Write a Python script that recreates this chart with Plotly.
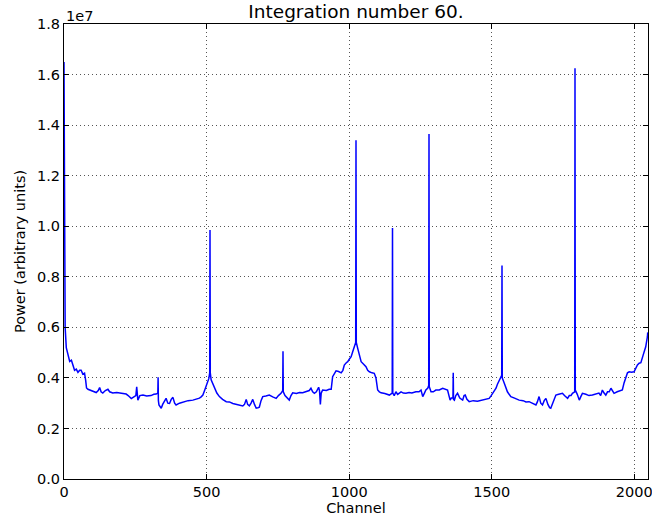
import numpy as np
import plotly.graph_objects as go

# Channel numbers and power (in units of 1e6)
channels = [
    0, 1, 2, 4, 8, 14, 20, 26, 31, 37, 43, 49, 55, 60, 66, 72, 76, 79, 84, 95,
    105, 113, 120, 125, 130, 136, 145, 154, 160, 171, 185, 200, 218, 225, 230, 236, 245, 252, 255, 257,
    259, 266, 277, 290, 305, 315, 323, 329, 330, 331, 333, 337, 341, 346, 352, 358, 364, 370, 376, 382,
    388, 393, 405, 420, 435, 452, 465, 475, 481, 487, 493, 498, 504, 508, 511, 512, 513, 516, 522, 528,
    536, 545, 556, 569, 580, 592, 605, 615, 627, 633, 639, 644, 650, 656, 662, 668, 674, 680, 685, 691,
    697, 708, 720, 732, 744, 752, 761, 767, 768, 769, 775, 779, 790, 796, 802, 815, 826, 837, 850, 860,
    866, 872, 878, 885, 893, 896, 899, 902, 907, 920, 930, 937, 942, 948, 954, 963, 972, 978, 983, 990,
    995, 1001, 1007, 1013, 1018, 1023, 1024, 1025, 1030, 1036, 1042, 1050, 1059, 1065, 1071, 1080, 1088, 1094, 1100, 1106,
    1112, 1125, 1141, 1151, 1152, 1153, 1158, 1164, 1170, 1176, 1182, 1190, 1199, 1210, 1220, 1234, 1245, 1252, 1258, 1264,
    1269, 1276, 1279, 1280, 1281, 1287, 1295, 1304, 1316, 1328, 1340, 1345, 1350, 1354, 1358, 1364, 1365, 1366, 1369, 1374,
    1380, 1388, 1398, 1403, 1407, 1413, 1421, 1435, 1450, 1465, 1480, 1491, 1498, 1503, 1509, 1515, 1520, 1526, 1535, 1536,
    1537, 1544, 1550, 1555, 1561, 1567, 1580, 1596, 1610, 1620, 1631, 1643, 1655, 1660, 1666, 1672, 1678, 1684, 1690, 1697,
    1703, 1707, 1713, 1719, 1725, 1735, 1748, 1755, 1760, 1766, 1772, 1778, 1783, 1791, 1792, 1793, 1800, 1807, 1812, 1818,
    1830, 1841, 1853, 1865, 1876, 1882, 1888, 1894, 1900, 1906, 1912, 1918, 1924, 1929, 1940, 1950, 1958, 1964, 1970, 1976,
    1982, 1990, 1999, 2005, 2011, 2017, 2023, 2031, 2037, 2040, 2046, 2047,
]
power_millions = [
    16.5, 9.0, 6.8, 6.0, 5.2, 4.95, 4.65, 4.7, 4.5, 4.3, 4.35, 4.22, 4.3, 4.3, 4.15, 4.19, 3.9, 3.6, 3.55, 3.5,
    3.45, 3.42, 3.5, 3.62, 3.45, 3.4, 3.5, 3.55, 3.45, 3.4, 3.42, 3.38, 3.36, 3.3, 3.26, 3.18, 3.25, 3.3, 3.65, 3.2,
    3.12, 3.3, 3.32, 3.28, 3.3, 3.35, 3.36, 3.4, 4.02, 3.1, 2.93, 2.85, 2.8, 2.95, 3.1, 3.19, 3.0, 2.99, 3.15, 3.23,
    3.0, 2.93, 3.0, 3.05, 3.1, 3.12, 3.15, 3.2, 3.25, 3.32, 3.5, 3.68, 3.85, 3.98, 4.2, 9.85, 4.2, 3.92, 3.75, 3.6,
    3.4, 3.26, 3.15, 3.06, 3.05, 2.99, 2.95, 2.92, 2.89, 2.95, 3.15, 2.95, 2.89, 3.0, 3.15, 2.95, 2.8, 2.82, 2.84, 3.1,
    3.26, 3.28, 3.32, 3.25, 3.19, 3.3, 3.39, 3.5, 5.05, 3.45, 3.3, 3.26, 3.12, 3.3, 3.41, 3.38, 3.42, 3.41, 3.45, 3.5,
    3.59, 3.45, 3.39, 3.45, 3.63, 3.5, 2.95, 3.4, 3.52, 3.5, 3.55, 3.55, 4.05, 4.2, 4.28, 4.25, 4.2, 4.3, 4.51, 4.6,
    4.64, 4.75, 4.84, 5.05, 5.23, 5.4, 13.4, 5.4, 5.17, 4.9, 4.64, 4.55, 4.44, 4.3, 4.24, 4.2, 4.18, 4.0, 3.52, 3.45,
    3.41, 3.38, 3.32, 3.4, 9.93, 3.4, 3.3, 3.45, 3.35, 3.4, 3.45, 3.4, 3.39, 3.42, 3.4, 3.45, 3.45, 3.52, 3.26, 3.4,
    3.52, 3.6, 3.7, 13.65, 3.65, 3.45, 3.45, 3.52, 3.52, 3.59, 3.55, 3.52, 3.3, 3.12, 3.2, 3.2, 4.2, 3.15, 3.12, 3.3,
    3.39, 3.2, 3.12, 3.3, 3.32, 3.15, 3.06, 3.1, 3.08, 3.12, 3.15, 3.19, 3.3, 3.39, 3.5, 3.59, 3.75, 3.92, 4.1, 8.45,
    4.0, 3.79, 3.6, 3.45, 3.35, 3.26, 3.2, 3.12, 3.1, 3.05, 3.06, 3.0, 2.93, 3.05, 3.26, 3.0, 2.93, 3.1, 3.19, 2.95,
    2.82, 2.8, 2.95, 3.15, 3.32, 3.35, 3.39, 3.3, 3.25, 3.19, 3.3, 3.3, 3.39, 3.45, 16.25, 3.52, 3.35, 3.12, 3.25, 3.39,
    3.35, 3.3, 3.32, 3.35, 3.4, 3.3, 3.52, 3.4, 3.32, 3.45, 3.45, 3.59, 3.45, 3.39, 3.45, 3.48, 3.52, 3.8, 4.05, 4.2,
    4.24, 4.22, 4.24, 4.4, 4.51, 4.58, 4.6, 4.9, 5.1, 5.23, 5.63, 5.8,
]

x_ticks = [0, 500, 1000, 1500, 2000]
y_tick_labels = ["0.0", "0.2", "0.4", "0.6", "0.8", "1.0", "1.2", "1.4", "1.6", "1.8"]
y_tick_values = [float(t) * 1e7 for t in y_tick_labels]

power = np.array(power_millions) * 1e6

FONT = "DejaVu Sans"
TICK_SIZE = 14.5

fig = go.Figure()
fig.add_trace(go.Scatter(
    x=channels, y=power, mode="lines",
    line=dict(color="#0000ff", width=1.5),
    showlegend=False,
))

axis_common = dict(
    showline=True, linecolor="black", linewidth=1, mirror="ticks",
    ticks="inside", ticklen=5, tickcolor="black", tickwidth=1,
    showgrid=True, gridcolor="#555555", griddash="1px,3px", gridwidth=1,
    zeroline=False, ticklabeloverflow="allow", automargin=False,
    tickfont=dict(family=FONT, size=TICK_SIZE, color="black"),
)

fig.update_layout(
    width=652, height=518,
    margin=dict(l=64, r=4, t=24, b=39, autoexpand=False),
    paper_bgcolor="white", plot_bgcolor="white",
    font=dict(family=FONT, color="black"),
    title=dict(text="Integration number 60.", x=0.546, xanchor="center",
               y=1 - 12 / 518, yanchor="middle",
               font=dict(family=FONT, size=18.5, color="black")),
    xaxis=dict(range=[0, 2048], tickvals=x_ticks,
               title=dict(text="Channel", standoff=0,
                          font=dict(family=FONT, size=TICK_SIZE, color="black")),
               **axis_common),
    yaxis=dict(range=[0, 1.8e7], tickvals=y_tick_values, ticktext=y_tick_labels,
               title=dict(text="Power (arbitrary units)", standoff=7,
                          font=dict(family=FONT, size=TICK_SIZE, color="black")),
               **axis_common),
    annotations=[dict(text="1e7", xref="paper", yref="paper", x=0, y=1,
                      xanchor="left", yanchor="bottom", yshift=-2, showarrow=False,
                      font=dict(family=FONT, size=TICK_SIZE, color="black"))],
)

fig.write_html("out.html")
